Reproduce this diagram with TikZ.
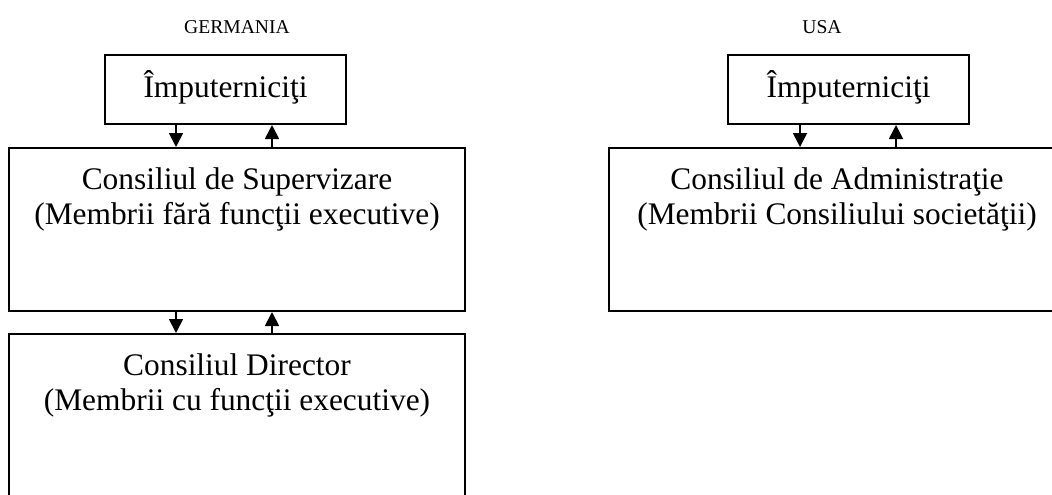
\documentclass[tikz,border=0pt]{standalone}
\usepackage{fontspec}
\setmainfont{Liberation Serif}
\usetikzlibrary{arrows.meta,calc}
\begin{document}
\begin{tikzpicture}[x=0.5pt,y=-0.5pt,
  box/.style={draw, line width=1pt, rectangle, inner sep=0pt},
  arr/.style={line width=0.9pt, -{Triangle[length=7pt,width=7pt]}},
  txt/.style={font=\fontsize{15.7}{18}\selectfont, anchor=base, inner sep=0pt},
  hdr/.style={font=\fontsize{9.8}{12}\selectfont, anchor=base, inner sep=0pt}]
\path[use as bounding box, clip] (0,0) rectangle (1052,494);
% headers
\node[hdr] (hG) at (237,33) {GERMANIA};
\node[hdr] (hU) at (822,33) {USA};
% Germany boxes
\node[box, minimum width=120.5pt, minimum height=34.5pt] (gi) at (225.5,89.5) {};
\node[txt] (tgi) at (225.5,97) {Împuterniciţi};
\node[box, minimum width=228pt, minimum height=81.5pt] (gs) at (237,229.5) {};
\node[txt] (tgs1) at (237,189) {Consiliul de Supervizare};
\node[txt] (tgs2) at (237,224) {(Membrii fără funcţii executive)};
\node[box, minimum width=228pt, minimum height=100pt] (gd) at (237,434) {};
\node[txt] (tgd1) at (237,375) {Consiliul Director};
\node[txt] (tgd2) at (237,410) {(Membrii cu funcţii executive)};
% USA boxes
\node[box, minimum width=120.5pt, minimum height=34.5pt] (ui) at (848.5,89.5) {};
\node[txt] (tui) at (848.5,97) {Împuterniciţi};
\node[box, minimum width=228pt, minimum height=81.5pt] (ua) at (837,229.5) {};
\node[txt] (tua1) at (837,189) {Consiliul de Administraţie};
\node[txt] (tua2) at (837,224) {(Membrii Consiliului societăţii)};
% arrow columns
\coordinate (gA) at ($(gi.south west)+(72,0)$);
\coordinate (gB) at ($(gi.south west)+(168,0)$);
\coordinate (uA) at ($(ui.south west)+(73,0)$);
\coordinate (uB) at ($(ui.south west)+(169,0)$);
% connectors
\draw[arr] (gA) -- (gA |- gs.north);
\draw[arr] (gB |- gs.north) -- (gB);
\draw[arr] (gA |- gs.south) -- (gA |- gd.north);
\draw[arr] (gB |- gd.north) -- (gB |- gs.south);
\draw[arr] (uA) -- (uA |- ua.north);
\draw[arr] (uB |- ua.north) -- (uB);
\end{tikzpicture}
\end{document}
